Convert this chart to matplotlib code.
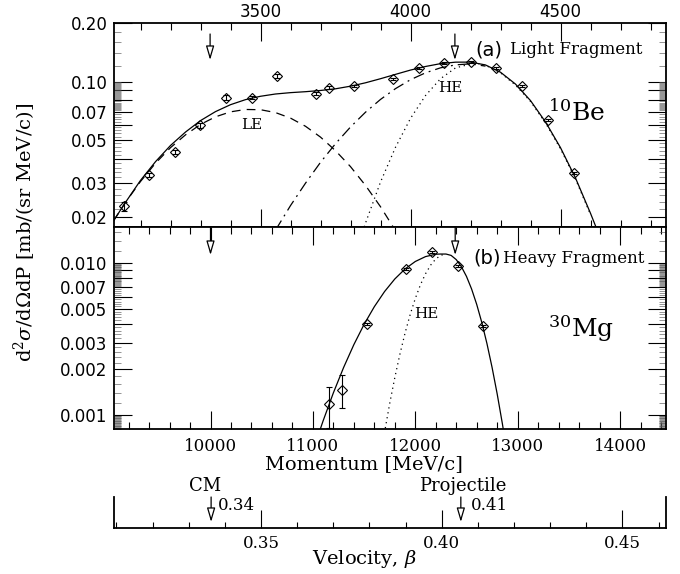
import matplotlib
matplotlib.use('Agg')
import matplotlib.pyplot as plt
import numpy as np
from matplotlib.ticker import FixedLocator, FixedFormatter, NullFormatter
from matplotlib.patches import ArrowStyle

plt.rcParams['font.family'] = ['DejaVu Serif']
plt.rcParams['mathtext.fontset'] = 'dejavuserif'

# ---------------- data: light fragment 10Be (top panel, Be momentum) ----------------
be_mom = [3046, 3129, 3215, 3299, 3386, 3473, 3556, 3685, 3729, 3813, 3941, 4028,
          4113, 4201, 4284, 4371, 4457, 4545]
be_val = [0.0227, 0.0330, 0.0433, 0.0594, 0.0824, 0.0827, 0.1066, 0.0868, 0.0928,
          0.0951, 0.1029, 0.1169, 0.1251, 0.1266, 0.1179, 0.0951, 0.0631, 0.0337]
be_lo = [0.0216, 0.0322, 0.0421, 0.0579, 0.0800, 0.0809, 0.1043, 0.0850, 0.0912,
         0.0940, 0.1017, 0.1155, 0.1236, 0.1251, 0.1165, 0.0940, 0.0624, 0.0333]
be_hi = [0.0238, 0.0338, 0.0445, 0.0610, 0.0849, 0.0845, 0.1089, 0.0887, 0.0945,
         0.0962, 0.1041, 0.1183, 0.1266, 0.1281, 0.1193, 0.0962, 0.0638, 0.0341]

be_fit_mom = [3010, 3050, 3100, 3150, 3200, 3250, 3300, 3350, 3400, 3450, 3500, 3550,
              3600, 3650, 3700, 3750, 3800, 3850, 3900, 3950, 4000, 4050, 4100, 4150,
              4200, 4250, 4300, 4350, 4400, 4450, 4500, 4550, 4600, 4625]
be_fit_total = [0.0191, 0.0238, 0.0309, 0.0386, 0.0468, 0.0549, 0.0629, 0.0700, 0.0760,
                0.0807, 0.0840, 0.0863, 0.0877, 0.0887, 0.0900, 0.0918, 0.0947, 0.0986,
                0.1035, 0.1090, 0.1147, 0.1197, 0.1238, 0.1260, 0.1261, 0.1219, 0.1118,
                0.0971, 0.0798, 0.0619, 0.0456, 0.0318, 0.0209, 0.0167]

be_le_mom = [3010, 3050, 3100, 3150, 3200, 3250, 3300, 3350, 3400, 3450, 3500, 3550,
             3600, 3650, 3700, 3750, 3800, 3850, 3900, 3950]
be_le_val = [0.0191, 0.0238, 0.0305, 0.0379, 0.0456, 0.0531, 0.0601, 0.0658, 0.0698,
             0.0718, 0.0716, 0.0692, 0.0648, 0.0588, 0.0517, 0.0440, 0.0364, 0.0291,
             0.0226, 0.0170]

be_mid_mom = [3550, 3600, 3650, 3700, 3750, 3800, 3850, 3900, 3950, 4000, 4050, 4100,
              4150, 4200, 4250]
be_mid_val = [0.0171, 0.0229, 0.0299, 0.0383, 0.0478, 0.0583, 0.0695, 0.0809, 0.0920,
              0.1023, 0.1110, 0.1178, 0.1220, 0.1235, 0.1202]

be_he_mom = [3830, 3850, 3900, 3950, 4000, 4050, 4100, 4150, 4215, 4250, 4300, 4350,
             4400, 4450, 4500, 4550, 4600]
be_he_val = [0.0150, 0.0186, 0.0303, 0.0458, 0.0646, 0.0847, 0.1035, 0.1177, 0.1250,
             0.1215, 0.1110, 0.0960, 0.0790, 0.0612, 0.0450, 0.0314, 0.0206]

# ---------------- data: heavy fragment 30Mg (bottom panel, Mg momentum) ----------------
mg_mom = [11160, 11282, 11532, 11910, 12161, 12421, 12665]
mg_val = [0.001176, 0.001462, 0.00398, 0.00913, 0.01192, 0.00960, 0.00386]
mg_lo = [0.00082, 0.00111, 0.00392, 0.00899, 0.01174, 0.00946, 0.00380]
mg_hi = [0.00153, 0.00184, 0.00404, 0.00927, 0.01210, 0.00975, 0.00392]

mg_fit_mom = [11050, 11100, 11200, 11300, 11400, 11500, 11600, 11700, 11800, 11900,
              12000, 12100, 12200, 12242, 12300, 12350, 12400, 12450, 12500, 12550,
              12600, 12650, 12700, 12750, 12800, 12850, 12870]
mg_fit_total = [0.000730, 0.000916, 0.001400, 0.002057, 0.002909, 0.003957, 0.005175,
                0.006513, 0.007882, 0.009178, 0.010278, 0.011071, 0.011478, 0.01151,
                0.01151, 0.011275, 0.010577, 0.009512, 0.008199, 0.006773, 0.005360,
                0.004068, 0.002958, 0.002061, 0.001377, 0.000882, 0.000729]

mg_he_mom = [11690, 11750, 11800, 11850, 11900, 11950, 12000, 12050, 12100, 12150,
             12200, 12250, 12300]
mg_he_val = [0.000705, 0.001189, 0.001763, 0.002518, 0.003465, 0.004590, 0.005858,
             0.007205, 0.008531, 0.009725, 0.010683, 0.011298, 0.01151]

# arrows (CM, projectile)
be_arrow = [3332, 4148]
mg_arrow = [10000, 12390]
beta_arrow = [0.3362, 0.4053]
beta_arrow_labels = ['0.34', '0.41']
beta_arrow_names = ['CM', 'Projectile']

# tick labels
be_xticks = [3500, 4000, 4500]
mg_xticks = [10000, 11000, 12000, 13000, 14000]
beta_ticks = [0.35, 0.40, 0.45]
top_yticks = [0.02, 0.03, 0.04, 0.05, 0.06, 0.07, 0.08, 0.09, 0.10, 0.20]
top_ylabels = ['0.02', '0.03', '', '0.05', '', '0.07', '', '', '0.10', '0.20']
bot_yticks = [0.001, 0.002, 0.003, 0.004, 0.005, 0.006, 0.007, 0.008, 0.009, 0.010]
bot_ylabels = ['0.001', '0.002', '0.003', '', '0.005', '', '0.007', '', '', '0.010']

# ---------------- figure ----------------
W, H = 680, 574
fig = plt.figure(figsize=(6.8, 5.74), dpi=100)


def fx(x):
    return x / W


def fy(y):
    return 1 - y / H


L, R = 113.5, 665.5
ax1 = fig.add_axes([fx(L), fy(226.7), (R - L) / W, (226.7 - 23.3) / H])
ax2 = fig.add_axes([fx(L), fy(429.3), (R - L) / W, (429.3 - 226.7) / H])
ax3 = fig.add_axes([fx(L), fy(528), (R - L) / W, 31 / H])

SPW = 1.3
for ax in (ax1, ax2, ax3):
    for s in ax.spines.values():
        s.set_linewidth(SPW)

LW = 0.9
# top panel
ax1.set_yscale('log')
ax1.plot(be_fit_mom, be_fit_total, color='k', lw=LW)
ax1.plot(be_le_mom, be_le_val, color='k', lw=LW, dashes=(7, 5))
ax1.plot(be_mid_mom, be_mid_val, color='k', lw=LW, dashes=(9, 4, 1.5, 4))
ax1.plot(be_he_mom, be_he_val, color='k', lw=LW, dashes=(1, 3))
ax1.errorbar(be_mom, be_val,
             yerr=[np.subtract(be_val, be_lo), np.subtract(be_hi, be_val)],
             fmt='D', ms=5, mfc='none', mec='k', mew=0.8, ecolor='k',
             elinewidth=0.8, capsize=2, capthick=0.8)
ax1.set_xlim(3010, 4850)
ax1.set_ylim(0.01782, 0.2)

# bottom panel
ax2.set_yscale('log')
ax2.plot(mg_fit_mom, mg_fit_total, color='k', lw=LW)
ax2.plot(mg_he_mom, mg_he_val, color='k', lw=LW, dashes=(1, 3))
ax2.errorbar(mg_mom, mg_val,
             yerr=[np.subtract(mg_val, mg_lo), np.subtract(mg_hi, mg_val)],
             fmt='D', ms=5, mfc='none', mec='k', mew=0.8, ecolor='k',
             elinewidth=0.8, capsize=2, capthick=0.8)
ax2.set_xlim(9052.5, 14444)
ax2.set_ylim(0.000805, 0.01743)

# ticks
MAJL, MINL, TW = 13, 5, 0.8
ax1.yaxis.set_major_locator(FixedLocator(top_yticks))
ax1.yaxis.set_major_formatter(FixedFormatter(top_ylabels))
top_minor = (list(np.arange(0.018, 0.0701, 0.002)) + list(np.arange(0.071, 0.0995, 0.001))
             + [0.12, 0.14, 0.16, 0.18])
ax1.yaxis.set_minor_locator(FixedLocator(top_minor))
ax1.yaxis.set_minor_formatter(NullFormatter())
ax1.xaxis.set_major_locator(FixedLocator(be_xticks))
ax1.xaxis.set_major_formatter(FixedFormatter([str(v) for v in be_xticks]))
ax1.xaxis.set_minor_locator(FixedLocator(list(np.arange(3100, 4850, 100))))
ax1.tick_params(axis='both', which='both', direction='in', top=True, right=True, width=TW)
ax1.tick_params(which='major', length=MAJL)
ax1.tick_params(which='minor', length=MINL)
ax1.tick_params(axis='y', which='minor', width=0.45, color='0.35')
ax1.tick_params(axis='x', labeltop=True, labelbottom=False, labelsize=12, pad=1.5)
ax1.tick_params(axis='y', labelsize=12, pad=4.5)

ax2.yaxis.set_major_locator(FixedLocator(bot_yticks))
ax2.yaxis.set_major_formatter(FixedFormatter(bot_ylabels))
bot_minor = (list(np.arange(0.00081, 0.000995, 0.00001)) + list(np.arange(0.0012, 0.00695, 0.0002))
             + list(np.arange(0.0071, 0.00995, 0.0001)) + [0.012, 0.014, 0.016])
ax2.yaxis.set_minor_locator(FixedLocator(bot_minor))
ax2.yaxis.set_minor_formatter(NullFormatter())
ax2.xaxis.set_major_locator(FixedLocator(mg_xticks))
ax2.xaxis.set_major_formatter(FixedFormatter([str(v) for v in mg_xticks]))
ax2.xaxis.set_minor_locator(FixedLocator(list(np.arange(9200, 14444, 200))))
ax2.tick_params(axis='both', which='both', direction='in', top=True, right=True, width=TW)
ax2.tick_params(which='major', length=MAJL)
ax2.tick_params(which='minor', length=MINL)
ax2.tick_params(axis='y', which='minor', width=0.45, color='0.35')
ax2.tick_params(axis='x', labelsize=12, pad=6.5)
ax2.tick_params(axis='y', labelsize=12, pad=4.5)

# velocity axis
ax3.set_xlim(0.30919, 0.46193)
ax3.set_ylim(0, 1)
ax3.spines['top'].set_visible(False)
ax3.yaxis.set_visible(False)
ax3.patch.set_alpha(0)
ax3.xaxis.set_major_locator(FixedLocator(beta_ticks))
ax3.xaxis.set_major_formatter(FixedFormatter(['%.2f' % v for v in beta_ticks]))
ax3.xaxis.set_minor_locator(FixedLocator(list(np.arange(0.31, 0.4615, 0.01))))
ax3.tick_params(axis='x', which='both', direction='in', width=TW)
ax3.tick_params(axis='x', which='major', length=13, labelsize=12, pad=5)
ax3.tick_params(axis='x', which='minor', length=4.3)

# arrows
AST = ArrowStyle('-|>', head_length=0.85, head_width=0.25)


def arrow(ax, x, y0, y1):
    ax.annotate('', xy=(x, fy(y1)), xytext=(x, fy(y0)),
                xycoords=('data', 'figure fraction'),
                arrowprops=dict(arrowstyle=AST, fc='white', ec='black', lw=0.9,
                                shrinkA=0, shrinkB=0),
                annotation_clip=False)


for xv in be_arrow:
    arrow(ax1, xv, 34, 60)
for xv in mg_arrow:
    arrow(ax2, xv, 226.7, 255)
for xv in beta_arrow:
    arrow(ax3, xv, 497, 522)

# texts
fig.text(fx(25), fy(232), r'$\mathrm{d}^2\sigma/\mathrm{d}\Omega\mathrm{dP}$ [mb/(sr MeV/c)]',
         rotation=90, ha='center', va='center', fontsize=14)
fig.text(fx(364), fy(464), 'Momentum [MeV/c]', ha='center', va='center', fontsize=14)
fig.text(fx(364), fy(559), r'Velocity, $\beta$', ha='center', va='center', fontsize=14)
fig.text(fx(475), fy(50), '(a)', family='DejaVu Sans', ha='left', va='center', fontsize=14)
fig.text(fx(510), fy(50), 'Light Fragment', ha='left', va='center', fontsize=12)
fig.text(fx(473), fy(258), '(b)', family='DejaVu Sans', ha='left', va='center', fontsize=14)
fig.text(fx(503), fy(258), 'Heavy Fragment', ha='left', va='center', fontsize=12)
fig.text(fx(548), fy(120.5), r'$^{10}$Be', ha='left', va='baseline', fontsize=18)
fig.text(fx(548), fy(337), r'$^{30}$Mg', ha='left', va='baseline', fontsize=18)
fig.text(fx(252), fy(125), 'LE', ha='center', va='center', fontsize=11)
fig.text(fx(450), fy(88), 'HE', ha='center', va='center', fontsize=11)
fig.text(fx(426), fy(314), 'HE', ha='center', va='center', fontsize=11)
fig.text(fx(205), fy(486), beta_arrow_names[0], ha='center', va='center', fontsize=13)
fig.text(fx(463), fy(486), beta_arrow_names[1], ha='center', va='center', fontsize=13)
fig.text(fx(218), fy(505), beta_arrow_labels[0], ha='left', va='center', fontsize=12)
fig.text(fx(471), fy(505), beta_arrow_labels[1], ha='left', va='center', fontsize=12)

fig.canvas.draw()
for lab in ax1.get_yticklabels() + ax1.get_xticklabels() + ax2.get_yticklabels():
    lab.set_fontfamily('DejaVu Sans')

fig.savefig('out.png', dpi=100)
